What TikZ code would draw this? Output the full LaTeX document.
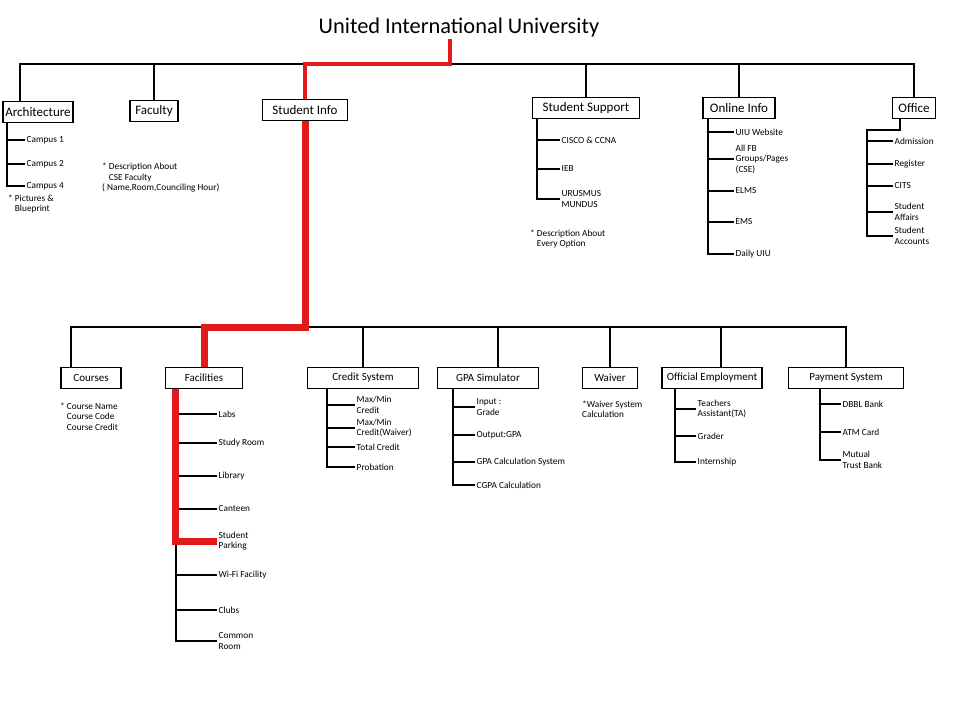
\documentclass[tikz,border=0pt]{standalone}
\usepackage{fontspec}
\setmainfont{Carlito}
\usepackage{xcolor}
\usepackage{tikz}
\definecolor{pathred}{RGB}{226,26,28}

\begin{document}
\begin{tikzpicture}[x=1pt,y=-1pt,%
% common options for boxes:
box/.style = {draw, line width=1.6pt, minimum height=21pt, inner sep=0},
topbox/.style = {box, font=\fontsize{13}{15}\selectfont},
subbox/.style = {box, font=\fontsize{11}{13}\selectfont},
% common options for the items and notes:
leaf/.style = {anchor=west, align=left, inner xsep=1.5pt, inner ysep=1pt,
            font=\fontsize{9.3}{10.5}\selectfont},
% common options for the lines:
link/.style = {line width=1.6pt},
redtop/.style = {draw=pathred, line width=4pt},
redlow/.style = {draw=pathred, line width=7pt}]
\useasboundingbox (0,0) rectangle (980,704);
\node[font=\fontsize{22.4}{26}\selectfont, inner sep=1pt] (uiu) at (459,28) {United International University};
\coordinate (topbus) at (0,64);
\coordinate (botbus) at (0,327);
% first level
\node[topbox,minimum width=70pt] (arch) at (38,112) {Architecture};
\node[topbox,minimum width=48pt] (fac) at (154,111) {Faculty};
\node[topbox,minimum width=85pt] (sinfo) at (305,110) {Student Info};
\node[topbox,minimum width=107pt] (ssup) at (586,108) {Student Support};
\node[topbox,minimum width=72pt] (oinfo) at (739,108) {Online Info};
\node[topbox,minimum width=43pt] (office) at (914,108) {Office};
% Architecture
\node[leaf] (camp1) at (25,140) {Campus 1};
\node[leaf] (camp2) at (25,164) {Campus 2};
\node[leaf] (camp4) at (25,186) {Campus 4};
\node[leaf] (archnote) at (6.5,204) {* Pictures \&\\\hphantom{*~}Blueprint};
% Faculty
\node[leaf] (facnote) at (100.5,177.5) {* Description About\\\hphantom{*~}CSE Faculty\\( Name,Room,Counciling Hour)};
% Student Support
\node[leaf] (cisco) at (560,140) {CISCO \& CCNA};
\node[leaf] (ieb) at (560,169) {IEB};
\node[leaf] (urus) at (560,199) {URUSMUS\\MUNDUS};
\node[leaf] (ssupnote) at (528.5,239) {* Description About\\\hphantom{*~}Every Option};
% Online Info
\node[leaf] (web) at (734,132) {UIU Website};
\node[leaf] (fb) at (734,159) {All FB\\Groups/Pages\\(CSE)};
\node[leaf] (elms) at (734,191) {ELMS};
\node[leaf] (ems) at (734,222) {EMS};
\node[leaf] (daily) at (734,254) {Daily UIU};
% Office
\node[leaf] (adm) at (893,141) {Admission};
\node[leaf] (reg) at (893,164) {Register};
\node[leaf] (cits) at (893,186) {CITS};
\node[leaf] (aff) at (893,212) {Student\\Affairs};
\node[leaf] (acc) at (893,236) {Student\\Accounts};
% second level
\node[subbox,minimum width=60pt] (courses) at (91,378) {Courses};
\node[subbox,minimum width=77pt] (facil) at (204,378) {Facilities};
\node[subbox,minimum width=111pt] (credit) at (363,378) {Credit System};
\node[subbox,minimum width=101pt] (gpa) at (488,378) {GPA Simulator};
\node[subbox,minimum width=55pt] (waiver) at (610,378) {Waiver};
\node[subbox,minimum width=100pt] (oemp) at (712,378) {Official Employment};
\node[subbox,minimum width=115pt] (pay) at (846,378) {Payment System};
% Courses
\node[leaf] (coursenote) at (58.5,416.5) {* Course Name\\\hphantom{*~}Course Code\\\hphantom{*~}Course Credit};
% Facilities
\node[leaf] (labs) at (217,414) {Labs};
\node[leaf] (study) at (217,443) {Study Room};
\node[leaf] (lib) at (217,476) {Library};
\node[leaf] (cant) at (217,509) {Canteen};
\node[leaf] (park) at (217,541) {Student\\Parking};
\node[leaf] (wifi) at (217,575) {Wi-Fi Facility};
\node[leaf] (clubs) at (217,610) {Clubs};
\node[leaf] (common) at (217,641) {Common\\Room};
% Credit System
\node[leaf] (mx1) at (355,405) {Max/Min\\Credit};
\node[leaf] (mx2) at (355,428) {Max/Min\\Credit(Waiver)};
\node[leaf] (tot) at (355,447) {Total Credit};
\node[leaf] (prob) at (355,467) {Probation};
% GPA Simulator
\node[leaf] (inp) at (475,407) {Input :\\Grade};
\node[leaf] (outp) at (475,435) {Output:GPA};
\node[leaf] (gcalc) at (475,462) {GPA Calculation System};
\node[leaf] (cgpa) at (475,485) {CGPA Calculation};
% Waiver
\node[leaf] (waivernote) at (580.5,409) {*Waiver System\\Calculation};
% Official Employment
\node[leaf] (ta) at (696,409) {Teachers\\Assistant(TA)};
\node[leaf] (grader) at (696,436) {Grader};
\node[leaf] (intern) at (696,462) {Internship};
% Payment System
\node[leaf] (dbbl) at (841,404) {DBBL Bank};
\node[leaf] (atm) at (841,432) {ATM Card};
\node[leaf] (mtb) at (841,460) {Mutual\\Trust Bank};
% spines
\coordinate (archS) at ([xshift=5pt]arch.south west);
\coordinate (ssupS) at ([xshift=5pt]ssup.south west);
\coordinate (oinfoS) at ([xshift=6pt]oinfo.south west);
\coordinate (offS) at (867,130);
\coordinate (facilS) at ([xshift=11pt]facil.south west);
\coordinate (creditS) at ([xshift=20pt]credit.south west);
\coordinate (gpaS) at ([xshift=16pt]gpa.south west);
\coordinate (oempS) at ([xshift=14pt]oemp.south west);
\coordinate (payS) at ([xshift=32pt]pay.south west);
% buses
\draw[link] ([xshift=-18pt]arch.north) |- (office.north |- topbus) -- (office.north);
\draw[link] (fac.north) -- (fac.north |- topbus);
\draw[link] (sinfo.north) -- (sinfo.north |- topbus);
\draw[link] (ssup.north) -- (ssup.north |- topbus);
\draw[link] (oinfo.north) -- (oinfo.north |- topbus);
\draw[link] ([xshift=-20pt]courses.north) |- (pay.north |- botbus) -- (pay.north);
\draw[link] (facil.north) -- (facil.north |- botbus);
\draw[link] (credit.north) -- (credit.north |- botbus);
\draw[link] ([xshift=10pt]gpa.north) -- ([xshift=10pt]gpa.north |- botbus);
\draw[link] (waiver.north) -- (waiver.north |- botbus);
\draw[link] ([xshift=9pt]oemp.north) -- ([xshift=9pt]oemp.north |- botbus);
% branches
\draw[link] (archS) |- (camp4.west) (archS |- camp1.west) -- (camp1.west) (archS |- camp2.west) -- (camp2.west);
\draw[link] (ssupS) |- (urus.west) (ssupS |- cisco.west) -- (cisco.west) (ssupS |- ieb.west) -- (ieb.west);
\draw[link] (oinfoS) |- (daily.west) (oinfoS |- web.west) -- (web.west) (oinfoS |- fb.west) -- (fb.west)
  (oinfoS |- elms.west) -- (elms.west) (oinfoS |- ems.west) -- (ems.west);
\draw[link] ([xshift=-14pt]office.south) |- (offS) |- (acc.west) (offS |- adm.west) -- (adm.west)
  (offS |- reg.west) -- (reg.west) (offS |- cits.west) -- (cits.west) (offS |- aff.west) -- (aff.west);
\draw[link] (facilS) |- (common.west) (facilS |- labs.west) -- (labs.west) (facilS |- study.west) -- (study.west)
  (facilS |- lib.west) -- (lib.west) (facilS |- cant.west) -- (cant.west) (facilS |- wifi.west) -- (wifi.west)
  (facilS |- clubs.west) -- (clubs.west);
\draw[link] (creditS) |- (prob.west) (creditS |- mx1.west) -- (mx1.west) (creditS |- mx2.west) -- (mx2.west)
  (creditS |- tot.west) -- (tot.west);
\draw[link] (gpaS) |- (cgpa.west) (gpaS |- inp.west) -- (inp.west) (gpaS |- outp.west) -- (outp.west)
  (gpaS |- gcalc.west) -- (gcalc.west);
\draw[link] (oempS) |- (intern.west) (oempS |- ta.west) -- (ta.west) (oempS |- grader.west) -- (grader.west);
\draw[link] (payS) |- (mtb.west) (payS |- dbbl.west) -- (dbbl.west) (payS |- atm.west) -- (atm.west);
% highlighted route
\draw[redtop] ([xshift=-9pt]uiu.south) |- (sinfo.north |- topbus) -- (sinfo.north);
\draw[redlow] (sinfo.south) |- (facil.north |- botbus) -- (facil.north);
\draw[redlow] (facilS) |- (park.west);
\end{tikzpicture}
\end{document}
